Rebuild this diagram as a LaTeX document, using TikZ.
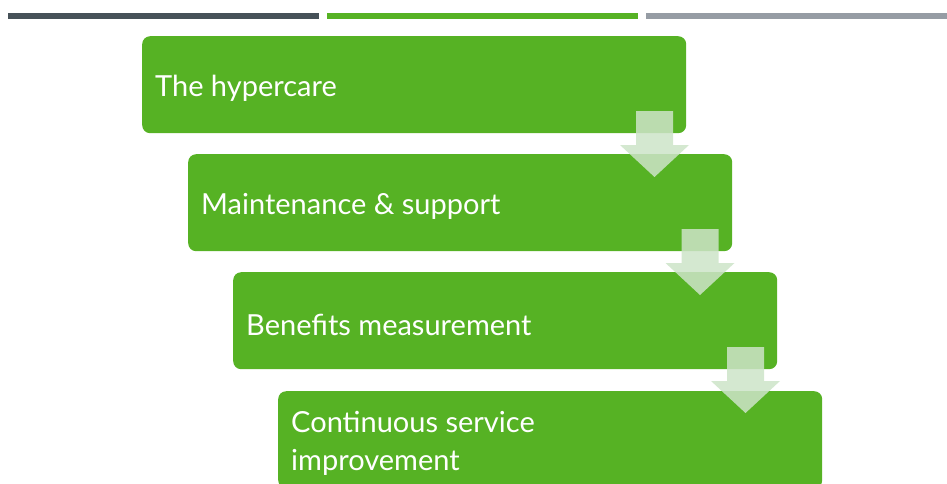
\documentclass[tikz,border=0pt]{standalone}
\usepackage{fontspec}
\setmainfont{Lato}
\definecolor{boxgreen}{RGB}{86,178,36}
\definecolor{bardark}{RGB}{70,81,88}
\definecolor{bargray}{RGB}{150,156,164}
\definecolor{arrowfill}{RGB}{205,228,200}
\begin{document}
\begin{tikzpicture}[x=1pt,y=-1pt,
  stagebox/.style={fill=boxgreen, rounded corners=8pt, minimum width=544pt, minimum height=97pt,
    inner sep=0pt, anchor=north west},
  stagetext/.style={text=white, font=\fontsize{29}{38}\selectfont, align=left, inner sep=0pt,
    anchor=west, xshift=13pt, yshift=-4pt},
  downarrow/.style={fill=arrowfill, fill opacity=0.85}]
\useasboundingbox (0,0) rectangle (947,483);
\clip (0,0) rectangle (947,483);
\fill[bardark] (8,12.5) rectangle (319,19);
\fill[boxgreen] (327,12.5) rectangle (638,19);
\fill[bargray] (646,12.5) rectangle (947,19);
\node[stagebox] (b1) at (142,36) {};
\node[stagebox] (b2) at (188,154) {};
\node[stagebox] (b3) at (233,272) {};
\node[stagebox] (b4) at (278,391) {};
\node[stagetext] (t1) at (b1.west) {The hypercare};
\node[stagetext] (t2) at (b2.west) {Maintenance \& support};
\node[stagetext] (t3) at (b3.west) {Benefits measurement};
\node[stagetext] (t4) at (b4.west) {Continuous service\\improvement};
\foreach \dx/\dy in {0/0, 45.5/118, 91/236}{
  \fill[downarrow] (636+\dx,111+\dy) -- (673+\dx,111+\dy) -- (673+\dx,145+\dy) -- (689+\dx,145+\dy)
    -- (654.5+\dx,177+\dy) -- (620+\dx,145+\dy) -- (636+\dx,145+\dy) -- cycle;
}
\end{tikzpicture}
\end{document}
